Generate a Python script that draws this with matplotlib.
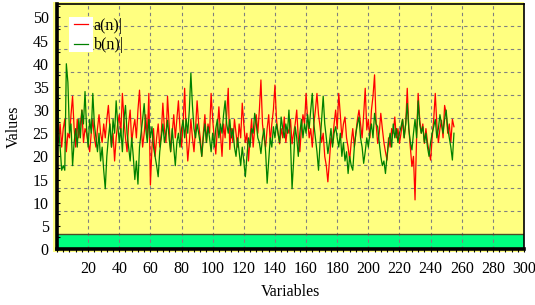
import numpy as np
import matplotlib
matplotlib.use("Agg")
import matplotlib.pyplot as plt
from matplotlib.patches import Rectangle
from matplotlib.ticker import MultipleLocator

plt.rcParams['font.family'] = ['Liberation Serif', 'DejaVu Serif']

# series
a_n = [25, 23, 27, 22, 26, 28, 21, 25, 24, 29,
       33, 26, 22, 28, 24, 27, 30, 23, 26, 25,
       23, 21, 25, 28, 24, 22, 26, 29, 25, 23,
       27, 24, 28, 31, 26, 22, 25, 19, 24, 27,
       29, 25, 33.6, 28, 24, 21, 27, 30, 23, 26,
       28, 24, 30, 34.3, 27, 22, 25, 29, 24, 33.6,
       13.8, 22, 26, 20, 24, 27, 22, 25, 31.5, 26,
       23, 33, 27, 21, 25, 29, 24, 28, 32, 26,
       22, 27, 34.7, 25, 19, 23, 28, 24, 21, 26,
       32, 27, 24, 20, 25, 29, 23, 27, 25, 33.6,
       28, 24, 20.5, 26, 30.7, 25, 20, 27, 24, 29,
       34.7, 21.5, 26, 23, 28, 25, 22, 27, 24, 31.5,
       27, 23, 25, 19, 24, 28, 22, 26, 29, 25,
       30, 36.5, 27, 24, 22, 26, 29, 23, 27, 30,
       35.4, 28, 25, 22.7, 26, 24, 28.5, 23, 26, 25,
       28, 22.7, 25, 27, 30, 24, 21, 26, 29, 27,
       33.6, 28, 24, 26, 22, 27, 30, 33.6, 29, 26.4,
       23, 25, 20, 18, 14.5, 19, 24, 22.7, 27, 30,
       26, 33.6, 29, 24, 27, 28.5, 24, 22, 19.2, 23,
       26, 22, 25, 28, 30, 27, 24, 29, 34.7, 25.7,
       28, 24, 30, 33, 37.6, 27, 22.8, 25, 29.3, 26,
       23, 21, 19.2, 24, 22, 26, 25, 28.5, 24, 26,
       22.8, 25, 28, 24, 27, 34.7, 26, 22, 17.8, 20,
       10.6, 24, 33.6, 28, 25, 27, 22.8, 26, 23, 21,
       19.2, 24, 28, 33.6, 27, 23, 26, 27.8, 24, 31,
       29.3, 25, 27, 23, 28, 26.4]

b_n = [50.5, 26, 22, 17, 18, 17, 40, 36, 25, 27,
       18, 23, 26, 22, 28, 24, 30, 27, 34, 26,
       22, 28, 25, 33.6, 27, 24, 21, 25, 19, 22,
       17, 13, 20, 24, 27, 22, 28, 25, 32, 27,
       23, 26, 21, 28, 31, 25, 22, 19, 24, 20,
       15, 19, 14, 22, 25, 28, 31.4, 26, 23, 28,
       24, 26.4, 22, 20, 18, 15.6, 21, 24, 27, 23,
       25, 27.8, 24, 21, 26, 22, 18, 23, 25, 22,
       26, 27.8, 24, 28, 25, 30, 38, 31, 26, 24,
       27, 25, 22.8, 20, 24, 27, 23, 26.4, 24, 21,
       25, 22, 26, 28, 24, 27, 25, 29, 32, 27,
       25, 28, 24, 26, 22, 20, 24, 21, 18, 22,
       19, 15.6, 20, 24, 22, 26, 25, 29.3, 27, 24,
       23, 20.6, 24, 26, 21, 14.2, 19, 24, 22, 26.4,
       24, 27, 25, 23, 28.5, 26, 24, 27, 25, 30,
       23, 13, 19, 26.4, 24, 20, 25, 28, 24, 27,
       25, 29, 26, 30, 33.6, 27, 24, 21, 17, 23,
       28, 33, 27, 24, 20.6, 23, 26, 22, 25, 26.4,
       24, 22, 25, 20, 23, 19, 21, 16.3, 20, 18,
       17, 22, 25, 27, 28.5, 24, 22, 18.5, 21, 24,
       22, 25, 27, 24, 29.3, 27, 26.4, 23, 20, 18,
       19, 16.3, 20, 23, 25, 22, 27, 24, 26, 23,
       25, 26.4, 28, 24, 27, 31.4, 26, 23, 21.4, 25,
       28, 24, 32, 27, 25, 26.4, 23, 25, 22, 20,
       23, 25, 26.4, 28, 24, 26, 29, 27, 25, 28,
       30, 26, 24, 22, 19.2, 25]

labels = ["a(n)|", "b(n)|"]
x_ticks = list(range(20, 301, 20))
y_ticks = list(range(0, 51, 5))
floor_top = 3.2

W, H = 535, 305
fig = plt.figure(figsize=(W / 100, H / 100), dpi=100)
fig.patch.set_facecolor('white')
# yellow panel slightly larger than the axes
fig.patches.append(Rectangle((53 / W, 1 - 252 / H), 471 / W, 250 / H,
                             transform=fig.transFigure, facecolor='#ffff80',
                             edgecolor='none', zorder=-10))

ax = fig.add_axes([57 / W, 1 - 249 / H, 467 / W, 245 / H])
ax.set_facecolor('#ffff80')
ax.set_xlim(0, 300)
ax.set_ylim(0, 52.9)

# green floor
ax.axhspan(0, floor_top, color='#00ff80', zorder=0.5, lw=0)

# dashed grid
for xv in x_ticks:
    ax.axvline(xv, color='#808080', lw=0.8, ls=(0, (3, 3)), zorder=1)
for yv in np.arange(floor_top + 5, 52, 5):
    ax.axhline(yv, color='#808080', lw=0.8, ls=(0, (3, 3)), zorder=1)
ax.axhline(floor_top, color='#4d4d26', lw=1, zorder=1.1)

xs_a = np.arange(len(a_n))
xs_b = np.arange(len(b_n))
ax.plot(xs_a, a_n, color='#ff0000', lw=0.9, label=labels[0], zorder=2)
ax.plot(xs_b, b_n, color='#008000', lw=0.9, label=labels[1], zorder=2.1)

ax.set_xticks(x_ticks)
ax.set_yticks(y_ticks)
ax.xaxis.set_minor_locator(MultipleLocator(4))
ax.yaxis.set_minor_locator(MultipleLocator(2.5))
ax.tick_params(axis='x', which='both', direction='out', length=2.5, width=0.8,
               labelsize=11.5, pad=6)
ax.tick_params(axis='y', which='both', direction='in', length=2.5, width=0.8,
               labelsize=11.5, pad=6)

for side in ['left', 'bottom']:
    ax.spines[side].set_linewidth(2.6)
for side in ['top', 'right']:
    ax.spines[side].set_linewidth(1.2)

ax.set_xlabel('Variables', fontsize=11.5, labelpad=5)
ax.set_ylabel('Values', fontsize=11.5, labelpad=8)

# white box behind the legend keys
ax.add_patch(Rectangle((69 / W, 1 - 52 / H), 24 / W, 35 / H,
                       transform=fig.transFigure, facecolor='white',
                       edgecolor='none', zorder=4))
leg = ax.legend(loc='upper left', bbox_to_anchor=(74 / W, 1 - 18 / H),
                bbox_transform=fig.transFigure, frameon=False, fontsize=11.5,
                borderpad=0, borderaxespad=0, handlelength=0.85,
                handletextpad=0.4, labelspacing=0.2)
leg.set_zorder(5)

fig.savefig('out.png', dpi=100)
